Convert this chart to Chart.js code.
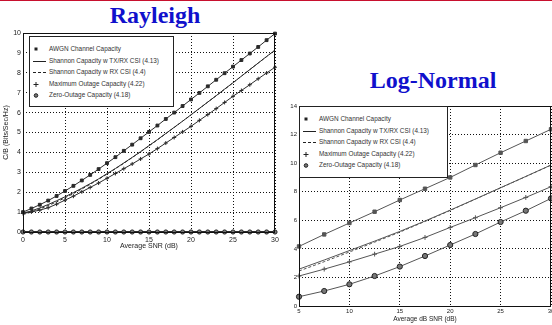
<!DOCTYPE html>
<html>
<head>
<meta charset="utf-8">
<title>Capacity in fading channels</title>
<script src="https://cdn.jsdelivr.net/npm/chart.js@4.4.1/dist/chart.umd.min.js"></script>
<style>
  body { margin: 0; width: 552px; height: 325px; overflow: hidden; position: relative; background: #fff;
         font-family: "Liberation Sans", Arial, sans-serif; }
  #topline { position: absolute; left: 0; top: 0; width: 552px; height: 1px; background: #c8102e; }
  .title { position: absolute; font-family: "Liberation Serif", "Times New Roman", serif; font-weight: bold;
           font-size: 24px; line-height: 24px; color: #1010cc; white-space: nowrap; transform: translateX(-50%); }
  canvas { position: absolute; }
  .legend { position: absolute; background: #fff; border: 1px solid #222; box-sizing: border-box; }
  .legend .row { position: absolute; left: 0; height: 8px; line-height: 8px; white-space: nowrap;
                 font-size: 6.4px; color: #333; }
  .legend svg { position: absolute; left: 1px; top: 0; }
  .legend span { position: absolute; left: 19px; top: 0; }
</style>
</head>
<body>
<div id="topline"></div>

<div class="title" style="left:155px; top:3px;">Rayleigh</div>
<div class="title" style="left:433px; top:68px;">Log-Normal</div>

<canvas id="ray" width="285" height="230" style="left:0; top:25px;"></canvas>
<canvas id="logn" width="282" height="230" style="left:270px; top:95px;"></canvas>

<div id="legRay" class="legend" style="left:29px; top:36px; width:145px; height:71px;"></div>
<div id="legLn" class="legend" style="left:299px; top:106px; width:149px; height:72px;"></div>

<script>
// series names (same legend on both plots)
var seriesNames = [
  'AWGN Channel Capacity',
  'Shannon Capacity w TX/RX CSI (4.13)',
  'Shannon Capacity w RX CSI (4.4)',
  'Maximum Outage Capacity (4.22)',
  'Zero-Outage Capacity (4.18)'
];

// Rayleigh plot, average SNR in dB
var snrRay = [0,1,2,3,4,5,6,7,8,9,10,11,12,13,14,15,16,17,18,19,20,21,22,23,24,25,26,27,28,29,30];
var awgnRay = [1.00,1.18,1.37,1.58,1.81,2.06,2.32,2.59,2.87,3.16,3.46,3.76,4.08,4.39,4.71,5.03,
               5.35,5.68,6.00,6.33,6.66,6.99,7.32,7.65,7.98,8.31,8.64,8.97,9.30,9.64,9.97];
var txRxRay = [0.95,1.06,1.21,1.38,1.57,1.77,1.98,2.20,2.43,2.67,2.93,3.19,3.47,3.75,4.04,4.34,
               4.64,4.95,5.26,5.57,5.89,6.21,6.53,6.85,7.18,7.50,7.83,8.16,8.49,8.82,9.14];
var rxRay = [0.88,1.00,1.16,1.33,1.51,1.72,1.93,2.16,2.40,2.65,2.91,3.18,3.45,3.74,4.03,4.33,
             4.63,4.94,5.25,5.57,5.88,6.20,6.53,6.85,7.17,7.50,7.83,8.16,8.49,8.81,9.14];
var outRay = [0.93,1.01,1.10,1.22,1.40,1.60,1.80,2.02,2.24,2.46,2.70,2.94,3.18,3.42,3.67,3.92,
              4.19,4.47,4.75,5.03,5.31,5.61,5.90,6.20,6.51,6.82,7.11,7.40,7.70,7.99,8.28];
var zeroRay = [0,0,0,0,0,0,0,0,0,0,0,0,0,0,0,0,0,0,0,0,0,0,0,0,0,0,0,0,0,0,0];

// Log-normal plot, average dB SNR
var snrLn = [5,7.5,10,12.5,15,17.5,20,22.5,25,27.5,30];
var awgnLn = [4.17,5.01,5.81,6.60,7.42,8.21,9.00,9.87,10.73,11.55,12.37];
var txRxLn = [2.58,3.22,3.88,4.54,5.22,5.95,6.71,7.49,8.28,9.07,9.87];
var rxLn = [2.45,3.10,3.78,4.47,5.17,5.92,6.69,7.48,8.27,9.06,9.86];
var outLn = [2.10,2.58,3.09,3.63,4.17,4.80,5.50,6.18,6.88,7.60,8.35];
var zeroLn = [0.65,1.05,1.52,2.10,2.76,3.50,4.27,5.04,5.88,6.67,7.53];

var rayXTicks = { min: 0, max: 30, step: 5 };
var rayYTicks = { min: 0, max: 10, step: 1 };
var lnXTicks = { min: 5, max: 30, step: 5 };
var lnYTicks = { min: 0, max: 14, step: 2 };

Chart.defaults.font.family = '"Liberation Sans", Arial, sans-serif';

function pts(xs, ys) {
  return xs.map(function (x, i) { return { x: x, y: ys[i] }; });
}

// matlab style box around the axes
var boxPlugin = {
  id: 'box',
  afterDraw: function (chart) {
    var a = chart.chartArea, ctx = chart.ctx;
    ctx.save();
    ctx.strokeStyle = '#111';
    ctx.lineWidth = 1;
    ctx.strokeRect(Math.round(a.left) + 0.5, Math.round(a.top) + 0.5,
                   Math.round(a.right - a.left) - 1, Math.round(a.bottom - a.top));
    ctx.restore();
  }
};

function makeDatasets(xs, series, c, big) {
  var r = big ? 2.4 : 2;
  return [
    { label: seriesNames[0], data: pts(xs, series[0]), borderColor: c, backgroundColor: c, borderWidth: 1,
      pointStyle: 'rect', pointRadius: r, legendKind: 'rect' },
    { label: seriesNames[1], data: pts(xs, series[1]), borderColor: c, borderWidth: 1,
      pointRadius: 0, legendKind: 'line' },
    { label: seriesNames[2], data: pts(xs, series[2]), borderColor: c, borderWidth: 1, borderDash: [3, 2],
      pointRadius: 0, legendKind: 'dash' },
    { label: seriesNames[3], data: pts(xs, series[3]), borderColor: c, backgroundColor: c, borderWidth: 1,
      pointStyle: 'cross', pointRadius: r, pointBorderWidth: 1, legendKind: 'cross' },
    { label: seriesNames[4], data: pts(xs, series[4]), borderColor: c, backgroundColor: '#777',
      borderWidth: big ? 1 : 2, pointStyle: 'circle', pointRadius: big ? 2.6 : 2.1, pointBorderWidth: 1,
      pointBorderColor: '#222', legendKind: 'circle' }
  ];
}

function makeOptions(o) {
  return {
    responsive: false,
    animation: false,
    events: [],
    layout: { padding: o.padding, autoPadding: false },
    datasets: { line: { clip: false } },
    plugins: { legend: { display: false }, tooltip: { enabled: false } },
    scales: {
      x: {
        type: 'linear', min: o.xt.min, max: o.xt.max,
        ticks: { stepSize: o.xt.step, padding: o.xPad, maxRotation: 0, autoSkip: false,
                 color: '#222', font: { size: o.tickSize } },
        grid: { color: '#111', lineWidth: 1, drawTicks: false },
        border: { display: false, dash: [1, 2] },
        title: { display: true, text: o.xTitle, color: '#222', font: { size: o.titleSize },
                 padding: { top: 0, bottom: o.xTitlePad } },
        afterFit: function (s) { s.height = o.xHeight; s.paddingLeft = 0; s.paddingRight = 0; }
      },
      y: {
        type: 'linear', min: o.yt.min, max: o.yt.max,
        ticks: { stepSize: o.yt.step, padding: 2, autoSkip: false, color: '#222', font: { size: o.tickSize } },
        grid: { color: '#111', lineWidth: 1, drawTicks: false },
        border: { display: false, dash: [1, 2] },
        title: { display: !!o.yTitle, text: o.yTitle || '', color: '#222', font: { size: o.titleSize },
                 padding: { top: 2, bottom: 0 } },
        afterFit: function (s) { s.width = o.yWidth; s.paddingTop = 0; s.paddingBottom = 0; }
      }
    }
  };
}

var legendRowMid = [12, 23.5, 35, 46.5, 58];

function legendSymbol(kind) {
  var k = '#222', body = '';
  if (kind === 'rect') body = '<rect x="3.5" y="2.5" width="3" height="3" fill="' + k + '"/>';
  if (kind === 'line') body = '<line x1="2" y1="4.5" x2="15" y2="4.5" stroke="' + k + '" stroke-width="1"/>';
  if (kind === 'dash') body = '<line x1="2" y1="4.5" x2="15" y2="4.5" stroke="' + k + '" stroke-width="1" stroke-dasharray="3,2"/>';
  if (kind === 'cross') body = '<path d="M5 2V7M2.5 4.5H7.5" stroke="' + k + '" stroke-width="1"/>';
  if (kind === 'circle') body = '<circle cx="5" cy="4.5" r="1.8" fill="#777" stroke="' + k + '" stroke-width="1"/>';
  return '<svg width="16" height="8" viewBox="0 0 16 8">' + body + '</svg>';
}

function htmlLegend(chart, id) {
  var el = document.getElementById(id);
  chart.data.datasets.forEach(function (ds, i) {
    var row = document.createElement('div');
    row.className = 'row';
    row.style.top = (legendRowMid[i] - 4) + 'px';
    row.innerHTML = legendSymbol(ds.legendKind) + '<span></span>';
    row.querySelector('span').textContent = ds.label;
    el.appendChild(row);
  });
}

var rayChart = new Chart(document.getElementById('ray'), {
  type: 'line',
  data: { datasets: makeDatasets(snrRay, [awgnRay, txRxRay, rxRay, outRay, zeroRay], '#2a2a2a', false) },
  options: makeOptions({
    padding: { left: 0, right: 10, top: 8, bottom: 0 },
    xt: rayXTicks, yt: rayYTicks, xPad: 4, tickSize: 7, titleSize: 7,
    xTitle: 'Average SNR (dB)', yTitle: 'C/B (Bits/Sec/Hz)', xTitlePad: 5, xHeight: 23, yWidth: 23
  }),
  plugins: [boxPlugin]
});

var lnChart = new Chart(document.getElementById('logn'), {
  type: 'line',
  data: { datasets: makeDatasets(snrLn, [awgnLn, txRxLn, rxLn, outLn, zeroLn], '#555', true) },
  options: makeOptions({
    padding: { left: 0, right: 1, top: 11, bottom: 0 },
    xt: lnXTicks, yt: lnYTicks, xPad: 2, tickSize: 6, titleSize: 6.5,
    xTitle: 'Average dB SNR (dB)', xTitlePad: 2, xHeight: 19, yWidth: 29
  }),
  plugins: [boxPlugin]
});

htmlLegend(rayChart, 'legRay');
htmlLegend(lnChart, 'legLn');
</script>
</body>
</html>
